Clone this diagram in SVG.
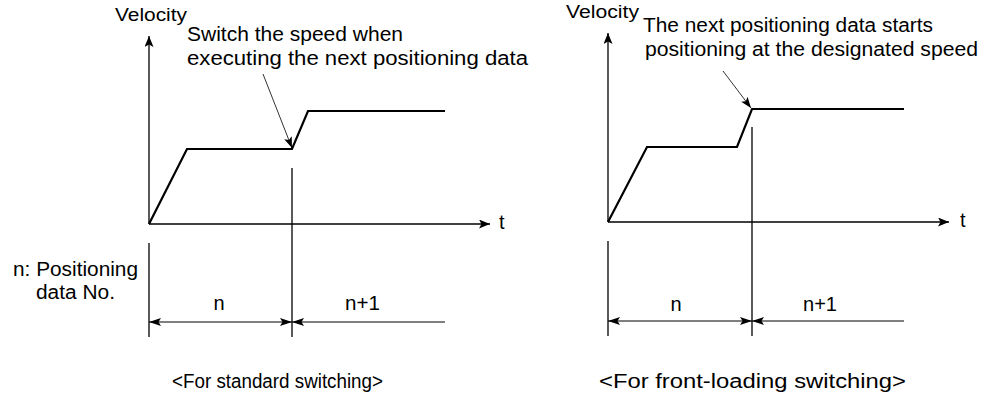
<svg xmlns="http://www.w3.org/2000/svg" width="992" height="398" viewBox="0 0 992 398">
<style>
text{font-family:"Liberation Sans",Arial,sans-serif;fill:#000;}
.t20{font-size:20px;}
.tv{font-size:18px;}
.ax{stroke:#000;stroke-width:1.3;fill:none;}
.prof{stroke:#000;stroke-width:2.2;fill:none;stroke-linejoin:miter;}
.ann{stroke:#000;stroke-width:0.8;fill:none;}
.dim{stroke:#000;stroke-width:1.2;fill:none;}
</style>
<defs>
<marker id="axArrow" markerUnits="userSpaceOnUse" markerWidth="12" markerHeight="10" refX="11" refY="4.5" orient="auto">
<path d="M0,0 L11,4.5 L0,9 L2.5,4.5 Z" fill="#000"/>
</marker>
<marker id="annArrow" markerUnits="userSpaceOnUse" markerWidth="12" markerHeight="10" refX="11" refY="4" orient="auto">
<path d="M0,0 L11,4 L0,8 L2.5,4 Z" fill="#000"/>
</marker>
<marker id="dimArrow" markerUnits="userSpaceOnUse" markerWidth="13" markerHeight="10" refX="12" refY="4" orient="auto-start-reverse">
<path d="M0,0 L12,4 L0,8 L2.5,4 Z" fill="#000"/>
</marker>
</defs>

<g id="chart-standard">
<g id="std-axes">
<line class="ax" x1="149" y1="224" x2="149" y2="36" marker-end="url(#axArrow)"/>
<line class="ax" x1="149" y1="224" x2="490" y2="224" marker-end="url(#axArrow)"/>
</g>
<polyline id="std-profile" class="prof" points="149,224 187,149 292,149 308,111 445,111"/>
<text class="tv" x="115" y="21" textLength="72" lengthAdjust="spacingAndGlyphs">Velocity</text>
<text class="t20" x="499" y="229">t</text>
<g id="std-note">
<text class="t20" x="187" y="41" textLength="216" lengthAdjust="spacingAndGlyphs">Switch the speed when</text>
<text class="t20" x="187" y="65" textLength="341" lengthAdjust="spacingAndGlyphs">executing the next positioning data</text>
</g>
<g id="std-ticks">
<line class="ax" x1="292" y1="168" x2="292" y2="337"/>
<line class="ax" x1="149" y1="243" x2="149" y2="337"/>
</g>
<text class="t20" x="13" y="276" textLength="125" lengthAdjust="spacingAndGlyphs">n: Positioning</text>
<text class="t20" x="36" y="299" textLength="79" lengthAdjust="spacingAndGlyphs">data No.</text>
<text class="t20" x="219" y="310" text-anchor="middle">n</text>
<text class="t20" x="345" y="310" textLength="35" lengthAdjust="spacingAndGlyphs">n+1</text>
<text class="t20" x="172" y="388" textLength="211" lengthAdjust="spacingAndGlyphs">&lt;For standard switching&gt;</text>
</g>

<g id="chart-frontloading">
<g id="fl-axes">
<line class="ax" x1="608" y1="222" x2="608" y2="33" marker-end="url(#axArrow)"/>
<line class="ax" x1="608" y1="222" x2="949" y2="222" marker-end="url(#axArrow)"/>
</g>
<polyline id="fl-profile" class="prof" points="608,222 647,147 737,147 752,109 904,109"/>
<text class="tv" x="566" y="18" textLength="73" lengthAdjust="spacingAndGlyphs">Velocity</text>
<text class="t20" x="960" y="227">t</text>
<g id="fl-note">
<text class="t20" x="643" y="32" textLength="290" lengthAdjust="spacingAndGlyphs">The next positioning data starts</text>
<text class="t20" x="645" y="56" textLength="333" lengthAdjust="spacingAndGlyphs">positioning at the designated speed</text>
</g>
<g id="fl-ticks">
<line class="ax" x1="752" y1="127" x2="752" y2="336"/>
<line class="ax" x1="608" y1="241" x2="608" y2="336"/>
</g>
<text class="t20" x="676" y="311" text-anchor="middle">n</text>
<text class="t20" x="803" y="311" textLength="34" lengthAdjust="spacingAndGlyphs">n+1</text>
<text class="t20" x="599" y="388" textLength="307" lengthAdjust="spacingAndGlyphs">&lt;For front-loading switching&gt;</text>
</g>

<g id="connectors">
<line class="ann" x1="263" y1="74" x2="292" y2="148" marker-end="url(#annArrow)"/>
<line class="ann" x1="723" y1="71" x2="751" y2="108" marker-end="url(#annArrow)"/>
<line class="dim" x1="149" y1="322" x2="292" y2="322" marker-start="url(#dimArrow)" marker-end="url(#dimArrow)"/>
<line class="dim" x1="292" y1="322" x2="445" y2="322" marker-start="url(#dimArrow)"/>
<line class="dim" x1="608" y1="321" x2="752" y2="321" marker-start="url(#dimArrow)" marker-end="url(#dimArrow)"/>
<line class="dim" x1="752" y1="321" x2="904" y2="321" marker-start="url(#dimArrow)"/>
</g>
</svg>
